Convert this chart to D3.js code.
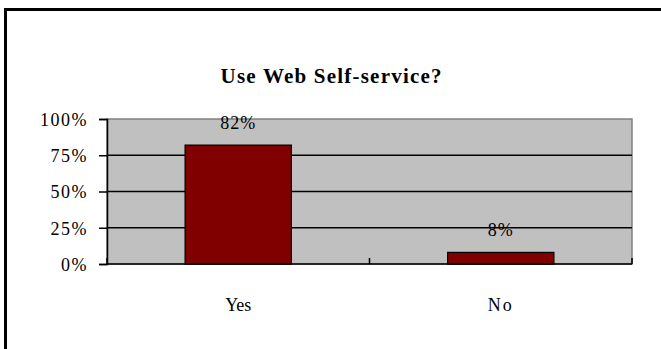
<!DOCTYPE html>
<html><head><meta charset="utf-8">
<script src="https://cdn.jsdelivr.net/npm/d3@7"></script>
<style>body{margin:0;background:#fff}svg{display:block}</style>
</head><body>
<script>
const categories = ["Yes", "No"];
const values = [82, 8];
const yTicks = [0, 25, 50, 75, 100];
const title = "Use Web Self-service?";

const W = 661, H = 349;
const svg = d3.select("body").append("svg").attr("width", W).attr("height", H);
const font = "'Liberation Serif','Times New Roman',serif";
const fs = 18;

// outer frame (extends past right/bottom)
svg.append("rect").attr("x", 5.5).attr("y", 9.5).attr("width", 700).attr("height", 400)
  .attr("fill", "none").attr("stroke", "#000").attr("stroke-width", 3);

const L = 107, R = 632, T = 119, B = 264;
const x = d3.scaleBand().domain(categories).range([L, R]);
const y = d3.scaleLinear().domain([0, 100]).range([B, T]);

svg.append("rect").attr("x", L).attr("y", T).attr("width", R - L).attr("height", B - T)
  .attr("fill", "#c0c0c0").attr("stroke", "#808080").attr("stroke-width", 1.5);

svg.append("text").attr("x", 331).attr("y", 83).attr("text-anchor", "middle")
  .attr("font-family", font).attr("font-weight", "bold").attr("font-size", 21)
  .attr("textLength", 221).attr("lengthAdjust", "spacing").text(title);

// gridlines
svg.selectAll(".grid").data(yTicks.filter(d => d > 0 && d < 100)).enter().append("line")
  .attr("x1", L).attr("x2", R).attr("y1", d => y(d)).attr("y2", d => y(d))
  .attr("stroke", "#000").attr("stroke-width", 1.5);

// bars
const bw = x.bandwidth() * 0.405;
svg.selectAll(".bar").data(values).enter().append("rect")
  .attr("x", (d, i) => x(categories[i]) + x.bandwidth() / 2 - bw / 2)
  .attr("y", d => y(d)).attr("width", bw).attr("height", d => B - y(d))
  .attr("fill", "#800000").attr("stroke", "#000").attr("stroke-width", 1.2);

// value labels
svg.selectAll(".vl").data(values).enter().append("text")
  .attr("x", (d, i) => x(categories[i]) + x.bandwidth() / 2)
  .attr("y", d => y(d) - 16).attr("text-anchor", "middle")
  .attr("font-family", font).attr("font-size", fs).attr("letter-spacing", 1).text(d => d + "%");

// y axis
const yAxis = d3.axisLeft(y).tickValues(yTicks).tickFormat(d => d + "%").tickSize(8).tickPadding(11);
const ga = svg.append("g").attr("transform", `translate(${L},0)`).call(yAxis);
ga.select(".domain").attr("stroke", "#000").attr("stroke-width", 1.5);
ga.selectAll(".tick line").attr("stroke", "#000").attr("stroke-width", 1.5);
ga.selectAll(".tick text").attr("font-family", font).attr("font-size", fs).attr("fill", "#000")
  .attr("letter-spacing", 1.5).attr("dy", "0.36em");

// x axis baseline + inner ticks at category boundaries
svg.append("line").attr("x1", L).attr("x2", R).attr("y1", B).attr("y2", B)
  .attr("stroke", "#000").attr("stroke-width", 1.5);
const bounds = categories.map(c => x(c)).concat([R]);
svg.selectAll(".xt").data(bounds).enter().append("line")
  .attr("x1", d => d).attr("x2", d => d).attr("y1", B).attr("y2", B - 6)
  .attr("stroke", "#000").attr("stroke-width", 1.5);

svg.selectAll(".xl").data(categories).enter().append("text")
  .attr("x", d => x(d) + x.bandwidth() / 2).attr("y", 311).attr("text-anchor", "middle")
  .attr("font-family", font).attr("font-size", fs).attr("letter-spacing", d => d === "No" ? 2 : 0).text(d => d);
</script>
</body></html>
